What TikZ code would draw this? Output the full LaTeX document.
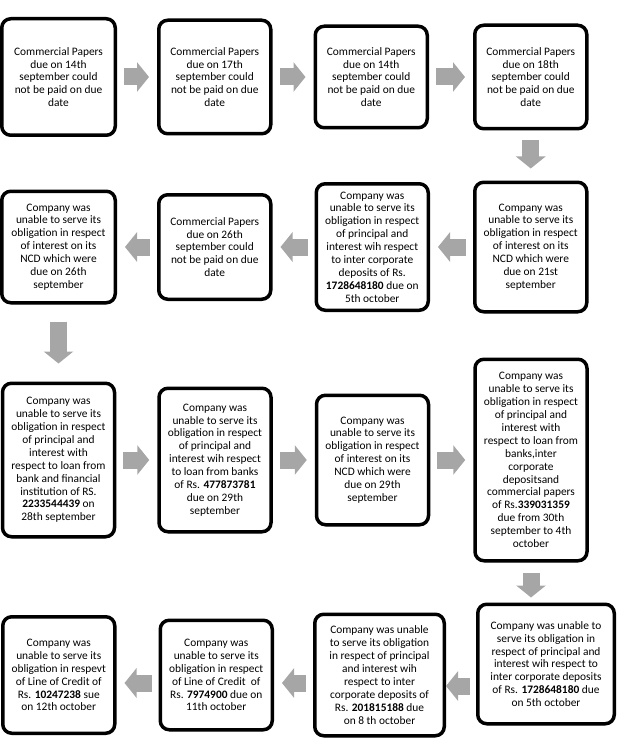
\documentclass[tikz,border=0pt]{standalone}
\usepackage{fontspec}
\setmainfont{Carlito}
\usepackage{tikz}
\usetikzlibrary{positioning, arrows.meta, shadows}
\definecolor{flowgray}{HTML}{A6A6A6}

\begin{document}
\begin{tikzpicture}[x=1pt, y=1pt,
      b/.style={draw=black, fill=white, line width=3.5pt, rounded corners=9pt, align=center, inner sep=2pt,
        font=\fontsize{11.4}{12.9}\selectfont, minimum width=112pt,
        drop shadow={shadow xshift=1.2pt, shadow yshift=-1.5pt, opacity=0.3}},
      f/.style={line width=17pt, draw=flowgray, -{Triangle[width=29pt, length=12pt]}, shorten <=7pt, shorten >=8pt}]
    \useasboundingbox (0,0) rectangle (627,-738);
    % row 1
    \node[b, minimum width=113.5pt, minimum height=116.5pt] (a) at (58.5,-77) {Commercial Papers\\due on 14th\\september could\\not be paid on due\\date};
    \node[b, minimum height=113.5pt, right=40pt of a] (bb) {Commercial Papers\\due on 17th\\september could\\not be paid on due\\date};
    \node[b, minimum height=101.5pt, right=41pt of bb] (c) {Commercial Papers\\due on 14th\\september could\\not be paid on due\\date};
    \node[b, minimum height=103.5pt, right=44pt of c] (d) {Commercial Papers\\due on 18th\\september could\\not be paid on due\\date};
    % row 2
    \node[b, minimum height=129.5pt, below=50pt of d] (e) {Company was\\unable to serve its\\obligation in respect\\of interest on its\\NCD which were\\due on 21st\\september};
    \node[b, minimum height=126.5pt, left=43pt of e] (ff) {Company was\\unable to serve its\\obligation in respect\\of principal and\\interest wih respect\\to inter corporate\\deposits of Rs.\\\textbf{1728648180} due on\\5th october};
    \node[b, minimum height=104.5pt, left=42pt of ff] (g) {Commercial Papers\\due on 26th\\september could\\not be paid on due\\date};
    \node[b, minimum width=113.5pt, minimum height=111.5pt, left=40pt of g] (h) {Company was\\unable to serve its\\obligation in respect\\of interest on its\\NCD which were\\due on 26th\\september};
    % row 3
    \node[b, minimum height=153.5pt, below=77pt of h] (i) {Company was\\unable to serve its\\obligation in respect\\of principal and\\interest with\\respect to loan from\\bank and financial\\institution of RS.\\\textbf{2233544439} on\\28th september};
    \node[b, minimum height=143.5pt, right=41pt of i] (j) {Company was\\unable to serve its\\obligation in respect\\of principal and\\interest wih respect\\to loan from banks\\of Rs. \textbf{477873781}\\due on 29th\\september};
    \node[b, minimum height=129.5pt, right=42pt of j] (k) {Company was\\unable to serve its\\obligation in respect\\of interest on its\\NCD which were\\due on 29th\\september};
    \node[b, minimum height=201.5pt, right=43pt of k] (l) {Company was\\unable to serve its\\obligation in respect\\of principal and\\interest with\\respect to loan from\\banks,inter\\corporate\\depositsand\\commercial papers\\of Rs.\textbf{339031359}\\due from 30th\\september to 4th\\october};
    % row 4
    \node[b, minimum width=136.5pt, minimum height=119.5pt, below=40pt of l, xshift=15pt] (m) {Company was unable to\\serve its obligation in\\respect of principal and\\interest wih respect to\\inter corporate deposits\\of Rs. \textbf{1728648180} due\\on 5th october};
    \node[b, minimum width=129.5pt, minimum height=121.5pt, left=30pt of m, yshift=-11pt] (n) {Company was unable\\to serve its obligation\\in respect of principal\\and interest wih\\respect to inter\\corporate deposits of\\Rs. \textbf{201815188} due\\on 8 th october};
    \node[b, minimum height=109.5pt, left=39pt of n] (o) {Company was\\unable to serve its\\obligation in respect\\of Line of Credit~~of\\Rs. \textbf{7974900} due on\\11th october};
    \node[b, minimum height=116.5pt, left=42pt of o] (p) {Company was\\unable to serve its\\obligation in respevt\\of Line of Credit of\\Rs. \textbf{10247238} sue\\on 12th october};
    % arrows
    \draw[f] (a.east) -- (a.east -| bb.west);
    \draw[f] (bb.east) -- (bb.east -| c.west);
    \draw[f] (c.east) -- (c.east -| d.west);
    \draw[f, shorten <=10pt, shorten >=12pt] (d.south) -- (d.south |- e.north);
    \draw[f] (e.west) -- (e.west -| ff.east);
    \draw[f] (ff.west) -- (ff.west -| g.east);
    \draw[f] (g.west) -- (g.west -| h.east);
    \draw[f, shorten <=17pt, shorten >=18pt] (h.south) -- (h.south |- i.north);
    \draw[f] (i.east) -- (i.east -| j.west);
    \draw[f] (j.east) -- (j.east -| k.west);
    \draw[f] (k.east) -- (k.east -| l.west);
    \draw[f, shorten <=10pt, shorten >=5pt] (l.south) -- (l.south |- m.north);
    \draw[f, shorten <=6pt, shorten >=0pt] ([yshift=-22pt]m.west) -- ([yshift=-22pt]m.west -| n.east);
    \draw[f] ([yshift=-8pt]n.west) -- ([yshift=-8pt]n.west -| o.east);
    \draw[f] ([yshift=-8pt]o.west) -- ([yshift=-8pt]o.west -| p.east);
  \end{tikzpicture}
\end{document}
